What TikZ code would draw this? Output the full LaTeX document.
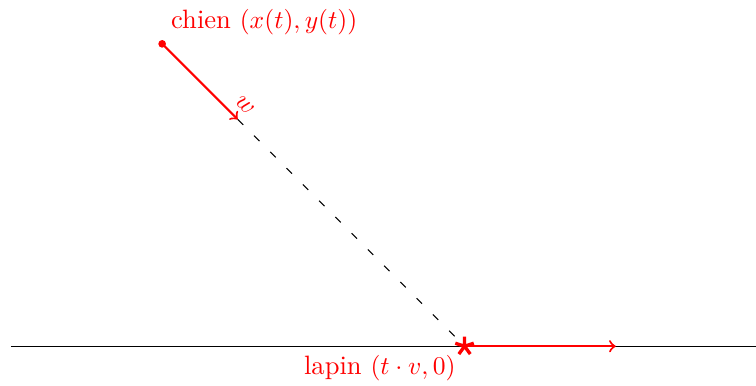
\documentclass[tikz,border=0pt]{standalone}
\usepackage{amsmath}
\usepackage{amssymb}
\usetikzlibrary{plotmarks}

\begin{document}
\begin{tikzpicture}[x=0.52cm,y=0.52cm, etiquette/.style={red, font=\fontsize{10.4pt}{12pt}\selectfont}]
        \useasboundingbox (-12.29,-1.03) rectangle (7.71,9.16);
        \coordinate (chien) at (-8,8);
        \coordinate (lapin) at (0,0);
        \coordinate (w) at (-6,6);
        \coordinate (v) at (4,0);
        %axe
        \draw (-12,0) coordinate (gauche) -- (7.71,0) coordinate (droite);
        %chien
        \fill[red] (chien) circle (1.5pt);
        \node[etiquette, anchor = south west] (labelchien) at (chien) {chien $(x(t),y(t))$};
        \draw[red, thick, ->] (chien) -- node[etiquette, pos=.95, sloped, above] (labelw) {$w$} (w);
        \draw[loosely dashed] (w) -- (lapin);
        %lapin
        \draw[red, thick, ->] (lapin) -- (v);
        \draw[red, line width=1.3pt] plot[mark=star, mark size=3.8pt] coordinates {(lapin)};
        \node[etiquette, anchor = north east] (labellapin) at (lapin) {lapin $(t\cdot v,0)$};
\end{tikzpicture}
\end{document}
